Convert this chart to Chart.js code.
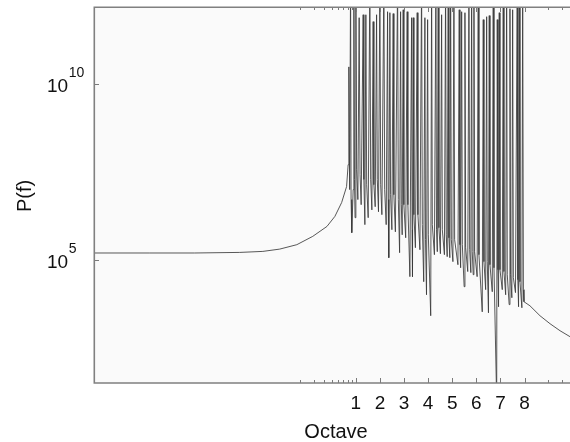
<!DOCTYPE html>
<html>
<head>
<meta charset="utf-8">
<script src="https://cdn.jsdelivr.net/npm/chart.js@4.4.1/dist/chart.umd.min.js"></script>
<style>
  html, body { margin: 0; padding: 0; background: #ffffff; }
  #wrap { width: 570px; height: 442px; }
</style>
</head>
<body>
<div id="wrap"><canvas id="c" width="570" height="442"></canvas></div>
<script>
// ---- data (x in octaves, y = P(f)) ----
const octave = [
  -9.88, -7.55, -5.69, -3.82, -2.86, -2.16, -1.45, -0.79, -0.20, 0.13, 0.41, 0.614, 0.68,
  0.709, 0.743,
  0.78, 0.801, 0.830, 0.888,
  0.917, 0.942, 0.967,
  1.0, 1.033, 1.083,
  1.137, 1.174, 1.220,
  1.303, 1.332, 1.374,
  1.415, 1.449, 1.511,
  1.581, 1.615, 1.664,
  1.718, 1.748, 1.802,
  1.860, 1.889, 1.939,
  1.997, 2.030, 2.080,
  2.163, 2.196, 2.258,
  2.316, 2.341, 2.366,
  2.412, 2.441, 2.495,
  2.549, 2.578, 2.640,
  2.732, 2.761, 2.815,
  2.856, 2.885, 2.923,
  2.964, 2.993, 3.068,
  3.130, 3.159, 3.242,
  3.313, 3.334, 3.350,
  3.380, 3.409, 3.471,
  3.546, 3.575, 3.658,
  3.728, 3.758, 3.816,
  3.865, 3.890, 3.932,
  3.978, 4.007, 4.106,
  4.144, 4.173, 4.260,
  4.322, 4.347, 4.380,
  4.418, 4.447, 4.509,
  4.559, 4.588, 4.675,
  4.725, 4.750, 4.791,
  4.833, 4.862, 4.899,
  4.933, 4.962, 5.028,
  5.070, 5.099, 5.236,
  5.290, 5.319, 5.348,
  5.390, 5.419, 5.494,
  5.527, 5.556, 5.643,
  5.693, 5.722, 5.772,
  5.805, 5.830, 5.871,
  5.900, 5.929, 6.033,
  6.079, 6.108, 6.245,
  6.287, 6.316, 6.387,
  6.428, 6.453, 6.503,
  6.536, 6.565, 6.661,
  6.702, 6.732, 6.844,
  6.868, 6.897, 6.922,
  6.951, 6.980, 7.076,
  7.117, 7.146, 7.217,
  7.258, 7.283, 7.362,
  7.395, 7.420, 7.474,
  7.507, 7.536, 7.624,
  7.698, 7.723, 7.752,
  7.782, 7.811, 7.890,
  7.923, 7.952, 7.977,
  8.226, 8.641, 9.057, 9.472, 9.887
];
const power = [
  1.55e5, 1.55e5, 1.55e5, 1.61e5, 1.72e5, 2.0e5, 2.67e5, 4.6e5, 8.8e5, 1.7e6, 4.2e6, 1.19e7, 5.0e7,
  3.0e10, 9.8e6,
  1e13, 5.1e6, 5.85e5, 9.8e6,
  1e13, 1.9e7, 1.56e6,
  1e13, 3.6e7, 5.1e6,
  7.5e11, 2.6e7, 3.65e6,
  9.1e11, 1.9e7, 9.9e5,
  9.1e11, 1.35e7, 1.56e6,
  1e13, 1.9e7, 2.6e6,
  5.8e11, 1.35e7, 3.2e6,
  9.1e11, 1.9e7, 2.3e6,
  1e13, 1.35e7, 1.9e6,
  1e13, 9.8e6, 9.9e5,
  1.11e12, 5.1e6, 1.14e5,
  1.04e12, 7.0e6, 7.1e5,
  9.8e11, 7.0e6, 6.2e5,
  1e13, 5.1e6, 1.58e5,
  1.11e12, 3.65e6, 5.1e5,
  1.26e12, 3.65e6, 4.2e5,
  1.11e12, 3.65e6, 3.3e4,
  7.5e11, 7.1e5, 3.3e4,
  7.5e11, 1.9e6, 2.19e5,
  1.04e12, 1.9e6, 1.92e5,
  1e13, 9.9e5, 2.37e4,
  7.5e11, 3.7e5, 1.01e4,
  6.6e11, 5.1e5, 2.56e3,
  1e13, 9.9e5, 1.39e5,
  1e13, 7.1e5, 1.69e5,
  1e13, 8.1e5, 1.48e5,
  9.1e11, 7.1e5, 1.39e5,
  1e13, 5.1e5, 1.22e5,
  1e13, 4.2e5, 1.14e5,
  1e13, 3.7e5, 8.8e4,
  1e13, 3.7e5, 7.2e4,
  1.26e12, 2.67e5, 5.9e4,
  1.11e12, 2.67e5, 1.71e4,
  1.04e12, 2.19e5, 4.6e4,
  1e13, 1.92e5, 4.3e4,
  1e13, 1.69e5, 3.75e4,
  1e13, 1.69e5, 3.3e4,
  1e13, 1.39e5, 3.3e3,
  6.6e11, 8.8e4, 1.41e4,
  8.0e11, 8.8e4, 3.1e3,
  8.6e11, 7.2e4, 1.23e4,
  1e13, 5.9e4, 10,
  6.6e11, 5.2e4, 4.6e3,
  1.04e12, 5.2e4, 1.41e4,
  1e13, 4.6e4, 1.01e4,
  1e13, 3.75e4, 5.3e3,
  1.35e12, 3.75e4, 8.3e3,
  1.26e12, 3.1e4, 1.16e4,
  1e13, 2.7e4, 4.6e3,
  1e13, 2.37e4, 4.3e3,
  1e13, 1.41e4, 6.4e3,
  4.9e3, 2.56e3, 1.52e3, 960, 650
];
const xTickValues = [1, 2, 3, 4, 5, 6, 7, 8];
const xTickLabels = ['1', '2', '3', '4', '5', '6', '7', '8'];
const xMinorFractions = [0.2, 0.3, 0.4, 0.5, 0.6, 0.7, 0.8, 0.9];
const xExtraMinor = [8.97, 9.55];
const yTickValues = [1e5, 1e10];
const yTickExponents = ['5', '10'];
const xTitle = 'Octave';
const yTitle = 'P(f)';

const FONT = "'Liberation Sans', Arial, Helvetica, sans-serif";

const points = octave.map((o, i) => ({ x: o, y: power[i] }));

const framePlugin = {
  id: 'frame',
  beforeDraw(chart) {
    const ctx = chart.ctx, a = chart.chartArea;
    ctx.save();
    ctx.fillStyle = '#ffffff';
    ctx.fillRect(0, 0, chart.width, chart.height);
    ctx.fillStyle = '#fafafa';
    ctx.fillRect(a.left, a.top, a.right - a.left, a.bottom - a.top);
    ctx.restore();
  },
  afterDraw(chart) {
    const ctx = chart.ctx, a = chart.chartArea;
    const xs = chart.scales.x, ys = chart.scales.y;
    ctx.save();
    // ticks
    ctx.strokeStyle = '#7a7a7a';
    ctx.lineWidth = 1;
    const vtick = (px, len) => {
      ctx.beginPath();
      ctx.moveTo(px, a.bottom); ctx.lineTo(px, a.bottom - len);
      ctx.moveTo(px, a.top); ctx.lineTo(px, a.top + len);
      ctx.stroke();
    };
    xTickValues.forEach(v => vtick(Math.round(xs.getPixelForValue(v)) + 0.5, 5));
    xMinorFractions.forEach(f => vtick(Math.round(xs.getPixelForValue(1 + Math.log2(f))) + 0.5, 3));
    xExtraMinor.forEach(v => vtick(Math.round(xs.getPixelForValue(v)) + 0.5, 3));
    yTickValues.forEach(v => {
      const py = Math.round(ys.getPixelForValue(v)) + 0.5;
      ctx.beginPath(); ctx.moveTo(a.left, py); ctx.lineTo(a.left + 5, py); ctx.stroke();
    });
    // frame
    ctx.strokeStyle = '#808080';
    ctx.lineWidth = 1.6;
    ctx.beginPath();
    ctx.moveTo(a.right, a.top + 0.3); ctx.lineTo(a.left + 0.3, a.top + 0.3);
    ctx.lineTo(a.left + 0.3, a.bottom); ctx.lineTo(a.right, a.bottom);
    ctx.stroke();
    // x tick labels
    ctx.fillStyle = '#111111';
    ctx.font = '19px ' + FONT;
    ctx.textAlign = 'center';
    ctx.textBaseline = 'alphabetic';
    xTickValues.forEach((v, i) => ctx.fillText(xTickLabels[i], xs.getPixelForValue(v), 408.5));
    // y tick labels (10 with superscript exponent)
    yTickValues.forEach((v, i) => {
      const py = ys.getPixelForValue(v);
      ctx.textAlign = 'left';
      ctx.font = '19px ' + FONT;
      ctx.fillText('10', 47, py + 8);
      const w = ctx.measureText('10').width;
      ctx.font = '14px ' + FONT;
      ctx.fillText(yTickExponents[i], 47 + w + 0.5, py - 6.5);
    });
    // titles
    ctx.font = '20px ' + FONT;
    ctx.textAlign = 'center';
    ctx.fillText(xTitle, 336, 438);
    ctx.save();
    ctx.translate(31, 196);
    ctx.rotate(-Math.PI / 2);
    ctx.fillText(yTitle, 0, 0);
    ctx.restore();
    ctx.restore();
  }
};

new Chart(document.getElementById('c'), {
  type: 'scatter',
  data: {
    datasets: [{
      data: points,
      showLine: true,
      borderColor: '#3a3a3a',
      borderWidth: 0.85,
      pointRadius: 0,
      tension: 0,
      fill: false
    }]
  },
  options: {
    responsive: false,
    animation: false,
    events: [],
    layout: { padding: { left: 94, top: 7, right: 0, bottom: 59 } },
    plugins: { legend: { display: false }, tooltip: { enabled: false } },
    scales: {
      x: { type: 'linear', min: -9.868, max: 9.887, display: false },
      y: { type: 'logarithmic', min: 31.4, max: 1.51e12, display: false }
    }
  },
  plugins: [framePlugin]
});
</script>
</body>
</html>
